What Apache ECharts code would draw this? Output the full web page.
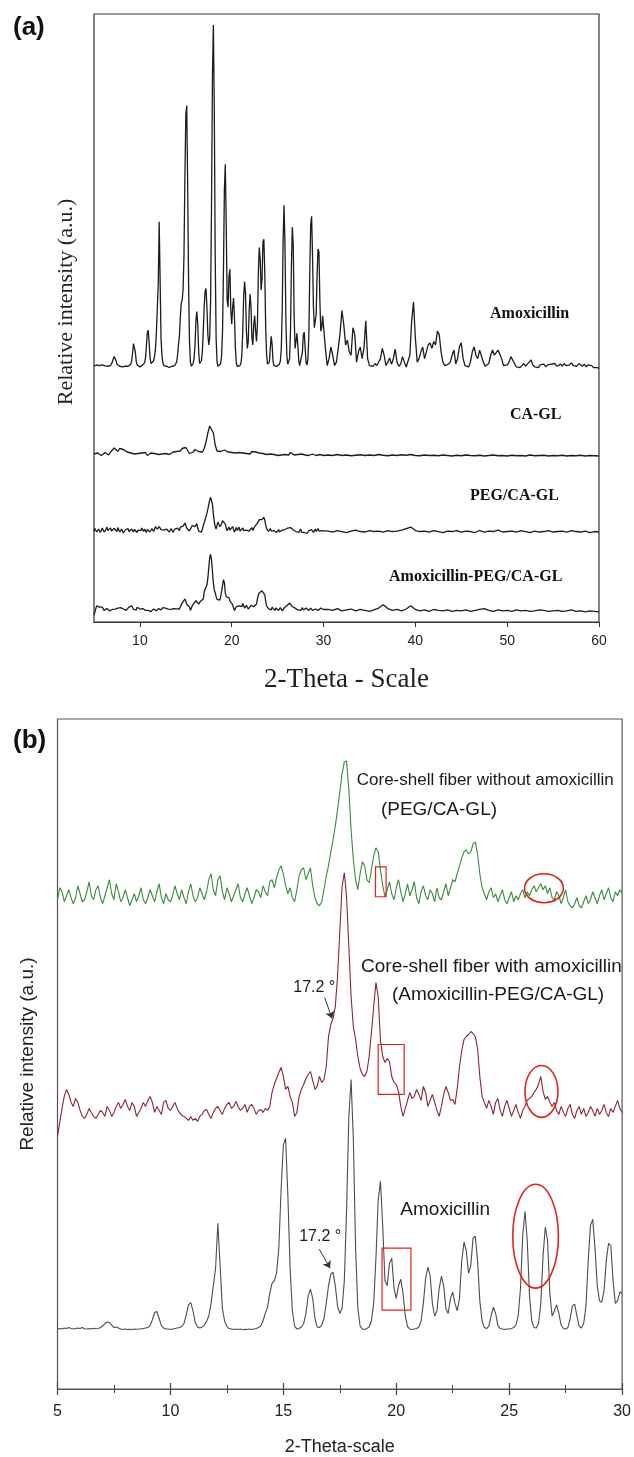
<!DOCTYPE html>
<html>
<head>
<meta charset="utf-8">
<title>XRD patterns</title>
<script src="https://cdn.jsdelivr.net/npm/echarts@6/dist/echarts.min.js"></script>
<style>
  html, body { margin: 0; padding: 0; background: #fff; }
  #chart { width: 634px; height: 1457px; }
</style>
</head>
<body>
<div id="chart"></div>
<script>
// ---- scan sampling (2-theta, degrees) ----
const LOW_START = 5.0;        // fine scan 5–30°
const LOW_STEP = 0.1;
const AMOX_HIGH_START = 30.2; // amoxicillin 30.2–60°
const AMOX_HIGH_STEP = 0.2;
const HIGH_START = 30.5;      // fibre scans 30.5–60°
const HIGH_STEP = 0.5;
const CAGL_LOW_STEP = 0.2;    // CA-GL 5–30° at 0.2°

// ---- intensities (counts, a.u.) ----
// Amoxicillin powder, 5.0–30.0° step 0.1
const amoxLow = [
  8, 10, 8, 12, 10, 14, 10, 8, 10, 12,          // 5
  10, 14, 9, 8, 10, 8, 11, 9, 10, 14,           // 6
  20, 30, 36, 34, 24, 14, 16, 12, 8, 6,         // 7
  8, 6, 7, 6, 8, 7, 8, 8, 10, 12,               // 8
  14, 22, 45, 74, 78, 50, 22, 12, 8, 8,         // 9
  6, 8, 10, 12, 14, 18, 30, 64, 104, 113,       // 10
  80, 34, 16, 12, 16, 24, 38, 60, 110, 180,     // 11
  250, 428, 260, 90, 40, 18, 10, 8, 6, 8,       // 12
  6, 8, 5, 7, 6, 8, 6, 8, 10, 14,               // 13
  20, 40, 70, 95, 150, 190, 200, 230, 330, 560, // 14
  740, 766, 540, 250, 80, 20, 8, 10, 16, 30,    // 15
  70, 140, 167, 130, 50, 16, 14, 24, 50, 110,   // 16
  180, 226, 234, 180, 100, 70, 90, 200, 480, 850, // 17
  1000, 760, 330, 90, 20, 8, 6, 10, 16, 40,     // 18
  110, 290, 520, 595, 420, 200, 180, 270, 290, 170, // 19
  130, 180, 206, 150, 60, 18, 8, 6, 8, 10,      // 20
  16, 40, 110, 210, 254, 220, 110, 60, 80, 170, // 21
  218, 180, 90, 70, 130, 155, 110, 80, 130, 280, // 22
  353, 320, 230, 260, 370, 377, 280, 120, 40, 14, // 23
  10, 20, 60, 95, 70, 22, 10, 8, 6, 8,          // 24
  8, 10, 14, 24, 60, 170, 380, 476, 360, 140,   // 25
  40, 14, 12, 30, 110, 300, 413, 360, 150, 60,  // 26
  80, 104, 70, 24, 10, 8, 14, 50, 100, 107,     // 27
  60, 18, 12, 30, 100, 280, 420, 444, 330, 180, // 28
  120, 115, 160, 280, 349, 340, 200, 110, 120, 155, // 29
  150                                            // 30
];
// Amoxicillin powder, 30.2–60.0° step 0.2
const amoxHigh = [
  60, 10, 30, 64, 40, 10, 20, 60, 105, 170,     // 30.2
  130, 70, 84, 50, 40, 120, 100, 20, 50, 64,    // 32.2
  30, 60, 140, 30, 10, 14, 8, 16, 10, 12,       // 34.2
  30, 60, 40, 10, 20, 32, 14, 30, 58, 20,       // 36.2
  8, 14, 36, 20, 6, 10, 40, 140, 195, 90,       // 38.2
  20, 30, 50, 64, 30, 50, 70, 76, 60, 80,       // 40.2
  70, 110, 100, 50, 20, 10, 8, 14, 20, 40,      // 42.2
  55, 15, 30, 65, 76, 30, 10, 8, 6, 20,         // 44.2
  50, 64, 40, 30, 55, 60, 20, 8, 10, 16,        // 46.2
  40, 55, 40, 36, 55, 60, 30, 10, 8, 12,        // 48.2
  20, 36, 40, 16, 6, 8, 4, 10, 16, 8,           // 50.2
  14, 20, 26, 12, 6, 10, 4, 12, 8, 14,          // 52.2
  6, 12, 8, 14, 10, 16, 8, 12, 14, 8,           // 54.2
  16, 10, 14, 12, 18, 10, 14, 8, 16, 12,        // 56.2
  8, 14, 6, 12, 8, 10, 4, 8, 4, 2               // 58.2
];

// PEG/CA-GL core-shell fibre, 5.0–30.0° step 0.1
const pegLow = [
  10, 22, 18, 8, 14, 20, 12, 6, 12, 24,         // 5
  16, 8, 10, 18, 28, 14, 10, 20, 24, 12,        // 6
  6, 14, 22, 30, 16, 10, 26, 18, 8, 12,         // 7
  20, 12, 4, 10, 16, 8, 14, 22, 10, 6,          // 8
  12, 20, 14, 8, 18, 26, 12, 6, 16, 10,         // 9
  8, 14, 24, 16, 10, 20, 12, 6, 18, 26,         // 10
  14, 8, 12, 22, 16, 10, 18, 30, 36, 20,        // 11
  14, 30, 34, 18, 10, 22, 16, 8, 14, 20,        // 12
  26, 12, 8, 16, 22, 14, 6, 12, 20, 18,         // 13
  12, 24, 18, 14, 28, 30, 22, 32, 40, 44,       // 14
  36, 24, 16, 22, 12, 8, 20, 34, 40, 42,        // 15
  30, 36, 42, 24, 12, 6, 4, 8, 20, 34,          // 16
  44, 58, 70, 84, 100, 118, 136, 148, 149, 120, // 17
  80, 50, 30, 20, 36, 48, 44, 30, 27, 40,       // 18
  54, 62, 58, 40, 24, 13, 20, 28, 16, 10,       // 19
  22, 30, 18, 8, 16, 26, 14, 20, 28, 12,        // 20
  6, 18, 24, 14, 10, 20, 16, 8, 22, 12,         // 21
  10, 18, 26, 14, 22, 30, 28, 36, 44, 52,       // 22
  58, 60, 56, 58, 66, 68, 56, 36, 22, 16,       // 23
  10, 18, 22, 12, 16, 8, 14, 20, 10, 6,         // 24
  12, 18, 8, 14, 10, 16, 20, 12, 18, 14,        // 25
  20, 24, 18, 22, 26, 20, 24, 16, 22, 12,       // 26
  10, 18, 14, 6, 12, 20, 8, 4, 2, 6,            // 27
  12, 4, 2, 8, 14, 6, 10, 18, 12, 6,            // 28
  14, 20, 10, 16, 22, 12, 8, 18, 14, 20,        // 29
  16                                             // 30
];
// PEG/CA-GL, 30.5–60.0° step 0.5
const pegHigh = [
  12, 8, 14, 10, 6, 12, 16, 10, 8, 14,
  10, 12, 8, 14, 10, 12, 16, 22, 28, 14,
  10, 12, 8, 14, 10, 6, 12, 10, 14, 8,
  12, 10, 6, 14, 8, 12, 10, 16, 8, 10,
  12, 8, 14, 10, 6, 12, 8, 10, 14, 8,
  10, 12, 8, 14, 10, 8, 12, 6, 10, 8
];

// Amoxicillin-PEG/CA-GL core-shell fibre, 5.0–30.0° step 0.1
const amoxPegLow = [
  0, 14, 28, 40, 47, 42, 34, 30, 38, 34,        // 5
  26, 20, 18, 22, 28, 24, 20, 18, 22, 26,       // 6
  24, 20, 30, 26, 20, 24, 30, 34, 28, 32,       // 7
  37, 30, 26, 34, 30, 20, 24, 28, 34, 30,       // 8
  36, 40, 34, 24, 30, 26, 22, 34, 36, 28,       // 9
  26, 30, 34, 28, 24, 21, 20, 18, 16, 20,       // 10
  16, 18, 15, 20, 22, 26, 27, 22, 18, 24,       // 11
  28, 30, 26, 22, 28, 32, 34, 28, 30, 35,       // 12
  30, 26, 28, 32, 24, 30, 32, 28, 22, 26,       // 13
  27, 24, 28, 26, 30, 44, 52, 58, 64, 69,       // 14
  60, 47, 50, 40, 34, 20, 24, 40, 47, 52,       // 15
  58, 62, 65, 56, 47, 50, 60, 54, 57, 70,       // 16
  100, 112, 118, 130, 160, 205, 250, 264, 240, 190, // 17
  140, 110, 97, 80, 68, 62, 60, 65, 80, 104,    // 18
  130, 154, 140, 96, 80, 74, 78, 75, 60, 54,    // 19
  52, 45, 30, 20, 28, 36, 44, 38, 40, 47,       // 20
  42, 36, 50, 44, 30, 36, 42, 34, 26, 20,       // 21
  30, 42, 50, 44, 36, 37, 32, 48, 70, 86,       // 22
  97, 100, 102, 105, 103, 100, 88, 60, 40, 34,  // 23
  28, 36, 30, 22, 34, 38, 26, 20, 30, 36,       // 24
  28, 20, 26, 32, 24, 18, 26, 30, 36, 38,       // 25
  40, 44, 47, 52, 60, 45, 37, 40, 34, 30,       // 26
  34, 26, 22, 30, 24, 20, 28, 32, 22, 18,       // 27
  26, 30, 22, 28, 20, 24, 30, 26, 20, 28,       // 28
  22, 26, 32, 24, 20, 28, 24, 30, 36, 28,       // 29
  24                                             // 30
];
// Amoxicillin-PEG/CA-GL, 30.5–60.0° step 0.5
const amoxPegHigh = [
  24, 20, 28, 18, 22, 26, 18, 24, 20, 16,
  22, 30, 45, 28, 20, 24, 18, 26, 40, 24,
  18, 22, 16, 24, 20, 18, 22, 16, 20, 18,
  22, 16, 20, 24, 28, 20, 16, 22, 18, 20,
  16, 22, 18, 20, 16, 18, 22, 20, 16, 18,
  20, 16, 18, 22, 16, 18, 14, 18, 16, 14
];

// CA-GL fibre, 5.0–30.0° step 0.2
const caGlLow = [
  12, 8, 16, 10, 6, 14, 18, 10, 8, 20,          // 5.0
  26, 36, 30, 22, 34, 38, 30, 26, 20, 28,       // 7.0
  16, 22, 12, 20, 14, 8, 16, 10, 18, 6,         // 9.0
  12, 16, 8, 14, 20, 10, 16, 12, 6, 14,         // 11.0
  18, 10, 14, 20, 16, 22, 18, 24, 34, 40,       // 13.0
  38, 26, 14, 10, 20, 30, 36, 22, 14, 20,       // 15.0
  34, 60, 96, 124, 132, 96, 48, 24, 18, 22,     // 17.0
  18, 28, 32, 20, 14, 18, 12, 16, 10, 18,       // 19.0
  22, 16, 20, 14, 18, 12, 22, 26, 20, 24,       // 21.0
  16, 20, 14, 18, 10, 8, 12, 6, 10, 8,          // 23.0
  6, 10, 8, 6, 10, 12, 8, 18, 14, 8,            // 25.0
  6, 10, 8, 12, 6, 8, 10, 6, 8, 12,             // 27.0
  8, 6, 14, 10, 8, 6                            // 29.0
];
// CA-GL, 30.5–60.0° step 0.5
const caGlHigh = [
  8, 6, 10, 6, 8, 5, 7, 9, 6, 8,
  6, 10, 7, 5, 8, 6, 9, 7, 10, 6,
  5, 8, 6, 7, 5, 8, 6, 4, 7, 5,
  8, 6, 5, 7, 4, 6, 8, 5, 6, 4,
  7, 5, 6, 4, 8, 5, 6, 7, 4, 6,
  5, 7, 4, 6, 5, 7, 4, 6, 5, 4
];

// ---- text ----
const panelTags = ['(a)', '(b)'];
const yTitle = 'Relative intensity (a.u.)';
const labelsA = ['Amoxicillin', 'CA-GL', 'PEG/CA-GL', 'Amoxicillin-PEG/CA-GL'];
const labelsB = [
  'Core-shell fiber without amoxicillin', '(PEG/CA-GL)',
  'Core-shell fiber with amoxicillin', '(Amoxicillin-PEG/CA-GL)',
  'Amoxicillin'
];
const peakNote = '17.2 °';

// join the fine and coarse parts of a scan into [2θ, I] pairs
function scan(low, lowStart, lowStep, high, highStart, highStep) {
  const pts = low.map((v, i) => [+(lowStart + i * lowStep).toFixed(2), v]);
  high.forEach((v, i) => pts.push([+(highStart + i * highStep).toFixed(2), v]));
  return pts;
}
// stack a scan in its panel: scale, then shift up
function stack(pts, scale, shift, xMax) {
  return pts.filter(p => p[0] <= xMax + 1e-9).map(p => [p[0], p[1] * scale + shift]);
}

const amox = scan(amoxLow, LOW_START, LOW_STEP, amoxHigh, AMOX_HIGH_START, AMOX_HIGH_STEP);
const peg = scan(pegLow, LOW_START, LOW_STEP, pegHigh, HIGH_START, HIGH_STEP);
const amoxPeg = scan(amoxPegLow, LOW_START, LOW_STEP, amoxPegHigh, HIGH_START, HIGH_STEP);
const caGl = scan(caGlLow, LOW_START, CAGL_LOW_STEP, caGlHigh, HIGH_START, HIGH_STEP);

const SERIF = '"Liberation Serif", "DejaVu Serif", serif';
const SANS = '"Liberation Sans", Arial, sans-serif';
const GREEN = '#3b8a3e';
const MAROON = '#862633';
const GREY = '#4d4d4d';
const MARK_RED = '#e2231a';

function trace(name, data, gi, color, width) {
  return {
    name, type: 'line', data,
    xAxisIndex: gi === 0 ? 0 : 1, yAxisIndex: gi,
    showSymbol: false, symbol: 'none', silent: true, animation: false,
    lineStyle: { color, width }, z: 3
  };
}

const chart = echarts.init(document.getElementById('chart'), null, { renderer: 'canvas' });

chart.setOption({
  animation: false,
  backgroundColor: '#fff',
  title: [
    { text: panelTags[0], left: 8, top: 10, textStyle: { fontFamily: SANS, fontWeight: 'bold', fontSize: 26, color: '#111' } },
    { text: panelTags[1], left: 8, top: 723, textStyle: { fontFamily: SANS, fontWeight: 'bold', fontSize: 26, color: '#111' } }
  ],
  grid: [
    { left: 94, top: 14, width: 505, height: 608, show: true, borderColor: '#333', borderWidth: 1.2, backgroundColor: 'transparent' },
    { left: 57.5, top: 719, width: 566, height: 671, show: true, borderColor: '#555', borderWidth: 1.2, backgroundColor: 'transparent' }
  ],
  xAxis: [
    {
      gridIndex: 0, type: 'value', min: 5, max: 60, splitNumber: 5,
      axisLine: { show: true, onZero: false, lineStyle: { color: '#333', width: 1.2 } },
      axisTick: { show: true, length: 5, lineStyle: { color: '#333' } },
      axisLabel: { showMinLabel: false, margin: 12, fontSize: 14, color: '#222', fontFamily: SANS },
      splitLine: { show: false },
      name: '2-Theta - Scale', nameLocation: 'middle', nameGap: 44,
      nameTextStyle: { fontFamily: SERIF, fontSize: 27, color: '#222' }
    },
    {
      gridIndex: 1, type: 'value', min: 5, max: 30, interval: 5, position: 'bottom',
      axisLine: { show: true, onZero: false, lineStyle: { color: '#555', width: 1.2 } },
      axisTick: { show: true, length: 6, lineStyle: { color: '#444', width: 1.2 } },
      minorTick: { show: true, splitNumber: 2, length: 4, lineStyle: { color: '#444', width: 1 } },
      axisLabel: { margin: 15, fontSize: 16, color: '#222', fontFamily: SANS },
      splitLine: { show: false },
      name: '2-Theta-scale', nameLocation: 'middle', nameGap: 49,
      nameTextStyle: { fontFamily: SANS, fontSize: 18, color: '#222' }
    },
    {
      gridIndex: 1, type: 'value', min: 5, max: 30, interval: 5, position: 'bottom',
      axisLine: { show: false, onZero: false },
      axisTick: { show: true, inside: true, length: 6, lineStyle: { color: '#444', width: 1.2 } },
      minorTick: { show: true, splitNumber: 2, length: 4, lineStyle: { color: '#444', width: 1 } },
      axisLabel: { show: false },
      splitLine: { show: false }
    }
  ],
  yAxis: [
    {
      gridIndex: 0, type: 'value', min: 0, max: 608,
      axisLine: { show: false }, axisTick: { show: false }, axisLabel: { show: false }, splitLine: { show: false }
    },
    {
      gridIndex: 1, type: 'value', min: 0, max: 671,
      axisLine: { show: false }, axisTick: { show: false }, axisLabel: { show: false }, splitLine: { show: false },
      name: yTitle, nameLocation: 'middle', nameRotate: 90, nameGap: 20,
      nameTextStyle: { fontFamily: SANS, fontSize: 19, color: '#222' }
    }
  ],
  series: [
    // panel (a): full range, stacked
    trace('Amoxicillin', stack(amox, 0.344, 253, 60), 0, '#1c1c1c', 1.3),
    trace('CA-GL', stack(caGl, 0.25, 165, 60), 0, '#1c1c1c', 1.3),
    trace('PEG/CA-GL', stack(peg, 0.248, 88, 60), 0, '#1c1c1c', 1.3),
    trace('Amoxicillin-PEG/CA-GL', stack(amoxPeg, 0.23, 7, 60), 0, '#1c1c1c', 1.3),
    // panel (b): 5–30°, stacked
    trace('Amoxicillin (b)', stack(amox, 0.252, 58, 30), 1, GREY, 1.1),
    trace('Amoxicillin-PEG/CA-GL (b)', stack(amoxPeg, 1, 253, 30), 1, MAROON, 1.1),
    trace('PEG/CA-GL (b)', stack(peg, 1, 480, 30), 1, GREEN, 1.1),
    {
      name: 'arrows', type: 'lines', coordinateSystem: 'cartesian2d', xAxisIndex: 1, yAxisIndex: 1,
      symbol: ['none', 'arrow'], symbolSize: 7, silent: true, animation: false, z: 4,
      lineStyle: { color: '#333', width: 1, opacity: 1 },
      data: [
        { coords: [[16.83, 392], [17.16, 371]] },
        { coords: [[16.59, 140], [17.07, 121]] }
      ]
    }
  ]
});

// annotations placed in data space
const boxesB = [
  { x0: 19.08, x1: 19.55, y0: 493, y1: 523 },
  { x0: 19.20, x1: 20.35, y0: 295, y1: 345 },
  { x0: 19.37, x1: 20.65, y0: 79, y1: 141 }
];
const ringsB = [
  { cx: 26.54, cy: 501.5, rx: 0.86, ry: 14.5 },
  { cx: 26.43, cy: 298, rx: 0.73, ry: 26 },
  { cx: 26.17, cy: 153, rx: 1.01, ry: 52 }
];
const textsA = [
  { t: labelsA[0], x: 48.13, y: 307.7 },
  { t: labelsA[1], x: 50.30, y: 207 },
  { t: labelsA[2], x: 45.95, y: 126 },
  { t: labelsA[3], x: 37.13, y: 45.3 }
];
const textsB = [
  { t: labelsB[0], x: 18.25, y: 610, size: 17 },
  { t: labelsB[1], x: 19.32, y: 580, size: 19 },
  { t: labelsB[2], x: 18.44, y: 423, size: 19 },
  { t: labelsB[3], x: 19.81, y: 395, size: 19 },
  { t: labelsB[4], x: 20.18, y: 180, size: 19 },
  { t: peakNote, x: 15.44, y: 402, size: 16 },
  { t: peakNote, x: 15.70, y: 153, size: 16 }
];

const px = (gi, x, y) => chart.convertToPixel({ gridIndex: gi }, [x, y]);
const graphics = [];
// y title of panel (a), set a little above the middle of the frame
{
  const p = px(0, 5, 320);
  graphics.push({ type: 'text', silent: true, z: 10, x: p[0] - 28, y: p[1], rotation: Math.PI / 2,
    style: { text: yTitle, fill: '#222', fontFamily: SERIF, fontSize: 22, align: 'center', verticalAlign: 'middle' } });
}
boxesB.forEach(b => {
  const p0 = px(1, b.x0, b.y1), p1 = px(1, b.x1, b.y0);
  graphics.push({ type: 'rect', silent: true, z: 10,
    shape: { x: p0[0], y: p0[1], width: p1[0] - p0[0], height: p1[1] - p0[1] },
    style: { fill: 'none', stroke: MARK_RED, lineWidth: 1.2 } });
});
ringsB.forEach(r => {
  const c = px(1, r.cx, r.cy), e = px(1, r.cx + r.rx, r.cy + r.ry);
  graphics.push({ type: 'ellipse', silent: true, z: 10,
    shape: { cx: c[0], cy: c[1], rx: Math.abs(e[0] - c[0]), ry: Math.abs(c[1] - e[1]) },
    style: { fill: 'none', stroke: MARK_RED, lineWidth: 1.6 } });
});
textsA.forEach(s => {
  const p = px(0, s.x, s.y);
  graphics.push({ type: 'text', silent: true, z: 10, x: p[0], y: p[1],
    style: { text: s.t, fill: '#111', fontFamily: SERIF, fontWeight: 'bold', fontSize: 16, align: 'left', verticalAlign: 'middle' } });
});
textsB.forEach(s => {
  const p = px(1, s.x, s.y);
  graphics.push({ type: 'text', silent: true, z: 10, x: p[0], y: p[1],
    style: { text: s.t, fill: '#1a1a1a', fontFamily: SANS, fontSize: s.size, align: 'left', verticalAlign: 'middle' } });
});
chart.setOption({ graphic: graphics });
</script>
</body>
</html>
